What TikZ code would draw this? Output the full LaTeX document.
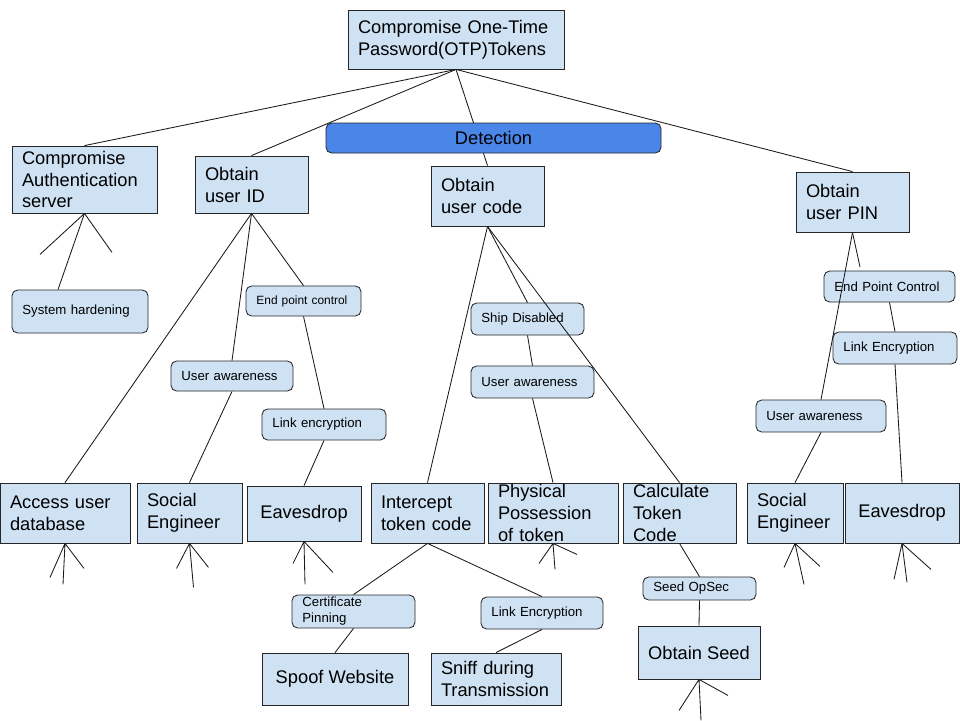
\documentclass[tikz,border=0pt]{standalone}
\usepackage{fontspec}
\setmainfont{Liberation Sans}
\usepackage{xcolor}
\usepackage{tikz}
\usetikzlibrary{positioning}

\definecolor{boxblue}{HTML}{CFE2F3}
\definecolor{detblue}{HTML}{4A86E8}

\begin{document}
\begin{tikzpicture}[
  atk/.style={draw=black!85,fill=boxblue,line width=0.6pt,
    inner xsep=0.25cm,inner ysep=0pt,align=left,
    font=\fontsize{13}{15.6}\selectfont},
  ctl/.style={draw=black!85,fill=boxblue,line width=0.6pt,
    rounded corners=4pt,inner xsep=0.26cm,inner ysep=0pt,align=left,
    font=\fontsize{9.4}{11.4}\selectfont},
  link/.style={line width=0.6pt,black!90}
]
\path[use as bounding box,fill=white] (0,0) rectangle (24,-18);

% goal and first level
\node[atk,minimum width=5.4cm,minimum height=1.475cm,text width=4.9cm] (otp)
  at (11.4,-0.9875) {Compromise One-Time\\Password(OTP)Tokens};
\node[atk,minimum width=3.625cm,minimum height=1.675cm,text width=3.125cm] (cas)
  at (2.1125,-4.4875) {Compromise\\Authentication\\server};
\node[atk,minimum width=2.825cm,minimum height=1.425cm,text width=2.325cm] (uid)
  at (6.2875,-4.6125) {Obtain\\user ID};
\node[atk,minimum width=2.825cm,minimum height=1.5cm,text width=2.325cm] (ucode)
  at (12.1875,-4.9) {Obtain\\user code};
\node[atk,minimum width=2.825cm,minimum height=1.5cm,text width=2.325cm] (upin)
  at (21.3125,-5.05) {Obtain\\user PIN};

% leaves
\node[atk,minimum width=3.25cm,minimum height=1.5cm,text width=2.75cm] (adb)
  at (1.625,-12.825) {Access user\\database};
\node[atk,minimum width=2.625cm,minimum height=1.5cm,text width=2.125cm] (seid)
  at (4.7375,-12.825) {Social\\Engineer};
\node[atk,minimum width=2.85cm,minimum height=1.375cm] (eavid)
  at (7.6,-12.8375) {Eavesdrop};
\node[atk,minimum width=2.825cm,minimum height=1.5cm,text width=2.325cm] (itc)
  at (10.6875,-12.825) {Intercept\\token code};
\node[atk,minimum width=3.25cm,minimum height=1.5cm,text width=2.75cm] (phys)
  at (13.825,-12.825) {Physical\\Possession\\of token};
\node[atk,minimum width=2.825cm,minimum height=1.5cm,text width=2.325cm] (calc)
  at (16.9875,-12.825) {Calculate\\Token\\Code};
\node[atk,minimum width=2.4cm,minimum height=1.5cm,text width=1.9cm] (sepin)
  at (19.875,-12.825) {Social\\Engineer};
\node[atk,minimum width=2.85cm,minimum height=1.5cm] (eavpin)
  at (22.55,-12.825) {Eavesdrop};
\node[atk,minimum width=3.65cm,minimum height=1.3cm] (spoof)
  at (8.375,-16.975) {Spoof Website};
\node[atk,minimum width=3.25cm,minimum height=1.3cm,text width=2.75cm] (sniff)
  at (12.4,-16.975) {Sniff during\\Transmission};
\node[atk,minimum width=3.05cm,minimum height=1.325cm] (seed)
  at (17.475,-16.3125) {Obtain Seed};

% countermeasures
\node[ctl,minimum width=3.4cm,minimum height=1.075cm,text width=2.88cm] (sysh)
  at (2.0,-7.7875) {System hardening};
\node[ctl,minimum width=2.875cm,minimum height=0.75cm,text width=2.355cm,
      font=\fontsize{8.5}{10.2}\selectfont] (epcid)
  at (7.5875,-7.525) {End point control};
\node[ctl,minimum width=3.05cm,minimum height=0.75cm,text width=2.53cm] (uaid)
  at (5.8,-9.4) {User awareness};
\node[ctl,minimum width=3.1cm,minimum height=0.775cm,text width=2.58cm] (leid)
  at (8.1,-10.6125) {Link encryption};
\node[ctl,minimum width=2.825cm,minimum height=0.8cm,text width=2.305cm] (shipd)
  at (13.1875,-7.975) {Ship Disabled};
\node[ctl,minimum width=3.075cm,minimum height=0.8cm,text width=2.555cm] (uacode)
  at (13.3125,-9.55) {User awareness};
\node[ctl,minimum width=3.275cm,minimum height=0.775cm,text width=2.755cm] (epcpin)
  at (22.2375,-7.1625) {End Point Control};
\node[ctl,minimum width=3.1cm,minimum height=0.8cm,text width=2.58cm] (lepin)
  at (22.375,-8.7) {Link Encryption};
\node[ctl,minimum width=3.25cm,minimum height=0.8cm,text width=2.73cm] (uapin)
  at (20.525,-10.4) {User awareness};
\node[ctl,minimum width=3.075cm,minimum height=0.825cm,text width=2.555cm] (certp)
  at (8.8375,-15.2875) {Certificate\\Pinning};
\node[ctl,minimum width=3.05cm,minimum height=0.8cm,text width=2.53cm] (leitc)
  at (13.55,-15.325) {Link Encryption};
\node[ctl,minimum width=2.825cm,minimum height=0.575cm,text width=2.305cm] (seedop)
  at (17.4875,-14.7125) {Seed OpSec};

\coordinate (pinend) at (21.5,-6.675);

% connectors
\foreach \a/\b in {otp/cas,otp/uid,otp/ucode,otp/upin,
                   uid/adb,uid/uaid,uaid/seid,uid/epcid,epcid/leid,leid/eavid,
                   ucode/itc,ucode/shipd,shipd/uacode,uacode/phys,ucode/calc,
                   upin/uapin,uapin/sepin,epcpin/lepin,lepin/eavpin,
                   itc/certp,certp/spoof,itc/leitc,leitc/sniff,
                   calc/seedop,seedop/seed}
  \draw[link] (\a.south) -- (\b.north);
\draw[link] (cas.south) -- ([xshift=-0.55cm]sysh.north);
\draw[link] (upin.south) -- (pinend);

% open branches
\draw[link] (cas.south) -- ++(-1.1125,-1.025) (cas.south) -- ++(0.6875,-0.975);
\foreach \n/\ax/\ay/\bx/\by/\cx/\cy in {
    adb/-0.375/-0.85/-0.05/-1.025/0.475/-0.625,
    seid/-0.325/-0.625/0.1/-1.1/0.475/-0.6,
    eavid/-0.275/-0.55/0.025/-1.075/0.725/-0.775,
    phys/-0.35/-0.5/0.05/-0.65/0.6/-0.275,
    seed/-0.5/-0.775/0.05/-1.025/0.725/-0.4,
    sepin/-0.275/-0.6/0.225/-1.025/0.625/-0.575,
    eavpin/-0.2/-0.9/0.125/-0.975/0.725/-0.65}
  \draw[link] (\n.south) -- ++(\ax,\ay) (\n.south) -- ++(\bx,\by)
              (\n.south) -- ++(\cx,\cy);

\node[draw=black!85,fill=detblue,line width=0.6pt,rounded corners=4pt,
      minimum width=8.375cm,minimum height=0.75cm,inner sep=0pt,
      font=\fontsize{13}{15.6}\selectfont] (det)
  at (12.3375,-3.45) {Detection};
\end{tikzpicture}
\end{document}
